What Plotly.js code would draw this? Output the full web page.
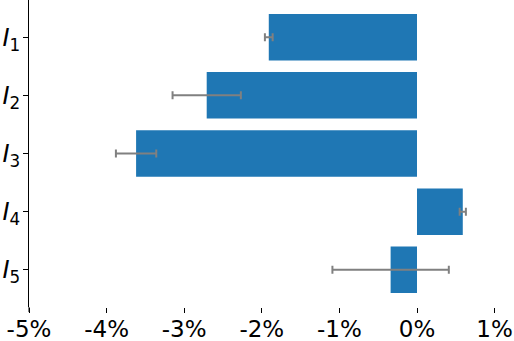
<!DOCTYPE html>
<html>
<head>
<meta charset="utf-8">
<script src="https://cdn.plot.ly/plotly-3.0.1.min.js"></script>
<style>
  html, body { margin: 0; padding: 0; background: #fff; }
  #chart { width: 514px; height: 341px; }
</style>
</head>
<body>
<div id="chart"></div>
<script>
// indicadores y sus valores (en %)
const labels = ['<i>I</i><sub>1</sub>', '<i>I</i><sub>2</sub>', '<i>I</i><sub>3</sub>', '<i>I</i><sub>4</sub>', '<i>I</i><sub>5</sub>'];
const values = [-1.91, -2.71, -3.62, 0.59, -0.34];
const errors = [0.05, 0.44, 0.26, 0.04, 0.75];

const xTickVals = [-5, -4, -3, -2, -1, 0, 1];
const xTickText = ['-5%', '-4%', '-3%', '-2%', '-1%', '0%', '1%'];

const data = [{
    type: 'bar',
    orientation: 'h',
    y: labels,
    x: values,
    width: 0.8,
    marker: { color: '#1f77b4', line: { width: 0 } },
    error_x: {
        type: 'data',
        array: errors,
        visible: true,
        color: '#808080',
        thickness: 2,
        width: 4
    },
    hoverinfo: 'x'
}];

const layout = {
    width: 514,
    height: 341,
    margin: { l: 29, r: 0, t: 0, b: 34 },
    paper_bgcolor: '#ffffff',
    plot_bgcolor: '#ffffff',
    font: { family: 'DejaVu Sans, sans-serif', color: '#000000', size: 24 },
    showlegend: false,
    bargap: 0.2,
    xaxis: {
        range: [-5, 1.25],
        tickvals: xTickVals,
        ticktext: xTickText,
        ticks: 'outside',
        ticklen: 5,
        tickwidth: 1,
        tickcolor: '#000',
        ticklabelstandoff: -4,
        showgrid: false,
        zeroline: false,
        showline: false,
        tickfont: { size: 23 }
    },
    yaxis: {
        autorange: false,
        range: [4.64, -0.64],
        type: 'category',
        ticks: 'outside',
        ticklen: 5,
        tickwidth: 1,
        tickcolor: '#000',
        ticklabelstandoff: -2,
        showgrid: false,
        zeroline: false,
        showline: true,
        linecolor: '#000',
        linewidth: 1,
        tickfont: { size: 24 }
    },
    shapes: [{
        // prolongación del eje izquierdo hasta las marcas del eje x
        type: 'line', xref: 'paper', yref: 'paper',
        x0: 0, x1: 0, y0: 0, y1: -0.0165,
        line: { color: '#000', width: 1 }
    }]
};

Plotly.newPlot('chart', data, layout, { displayModeBar: false, staticPlot: true });
</script>
</body>
</html>
